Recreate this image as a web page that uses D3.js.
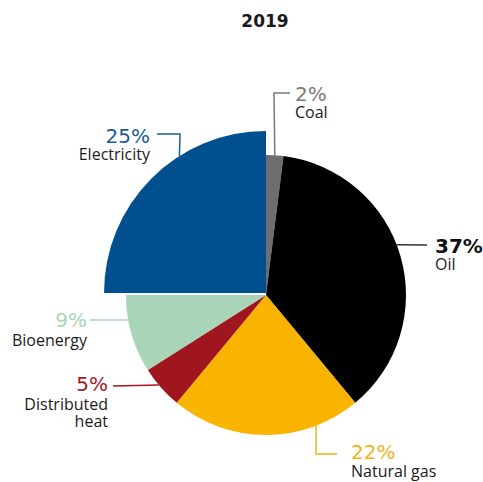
<!DOCTYPE html>
<html>
<head>
<meta charset="utf-8">
<script src="https://cdn.jsdelivr.net/npm/d3@7"></script>
<style>
  body { margin: 0; background: #fff; }
  svg { display: block; }
</style>
</head>
<body>
<div id="chart"></div>
<script>
// data
const title = '2019'
const categories = ['Coal', 'Oil', 'Natural gas', 'Distributed heat', 'Bioenergy', 'Electricity']
const shares = [2, 37, 22, 5, 9, 25]
const colors = ['#6d6e70', '#000000', '#f9b400', '#a0161f', '#a8d5b7', '#00508f']
const pctColors = ['#7a7a7a', '#111111', '#f4b31c', '#a8161f', '#a8d5b7', '#1c5b96']

const width = 483
const height = 482
const cx = 266
const cy = 295
const radius = 140
const bigRadius = 162 // electricity slice sticks out

// label layout: leader angle (deg, clockwise from top), elbow points, text position
const labelLayout = [
  { angle: 3.6, r: radius, pts: [[274, 93], [290, 93]], tx: 295, ty: 101, gap: 17, anchor: 'start', lines: ['Coal'] },
  { angle: 69, r: radius, pts: [[427, 245]], tx: 435, ty: 253, gap: 17, anchor: 'start', lines: ['Oil'], bold: true },
  { angle: 159, r: radius, pts: [[316, 454], [337, 454]], tx: 351, ty: 459, gap: 18, anchor: 'start', lines: ['Natural gas'] },
  { angle: 230, r: radius, pts: [[113, 386]], tx: 108, ty: 391, gap: 19, anchor: 'end', lines: ['Distributed', 'heat'] },
  { angle: 259.7, r: radius, pts: [[90, 320]], tx: 87, ty: 327, gap: 19, anchor: 'end', lines: ['Bioenergy'] },
  { angle: 327.7, r: bigRadius, pts: [[180, 134], [157, 134]], tx: 150, ty: 143, gap: 17, anchor: 'end', lines: ['Electricity'] }
]

const svg = d3.select('#chart')
  .append('svg')
  .attr('width', width)
  .attr('height', height)

svg.append('text')
  .attr('x', 265)
  .attr('y', 27)
  .attr('text-anchor', 'middle')
  .style('font-family', '"DejaVu Sans", sans-serif')
  .style('font-weight', 'bold')
  .style('font-size', '17px')
  .style('fill', '#1a1a1a')
  .text(title)

const pie = d3.pie().sort(null).value((d) => d)
const arcs = pie(shares)

const g = svg.append('g').attr('transform', `translate(${cx},${cy})`)

g.selectAll('path')
  .data(arcs)
  .join('path')
  .attr('d', (d, i) => d3.arc().innerRadius(0).outerRadius(i === 5 ? bigRadius : radius)(d))
  .attr('transform', (d, i) => (i === 5 ? 'translate(0,-2)' : null))
  .attr('fill', (d, i) => colors[i])

// leader lines + labels
labelLayout.forEach((l, i) => {
  const a = (l.angle * Math.PI) / 180
  const off = i === 5 ? -2 : 0
  const start = [cx + Math.sin(a) * l.r, cy - Math.cos(a) * l.r + off]
  const pts = [start].concat(l.pts)
  svg.append('path')
    .attr('d', d3.line()(pts))
    .attr('fill', 'none')
    .attr('stroke', i === 1 ? '#333' : pctColors[i])
    .attr('stroke-width', 1.5)

  svg.append('text')
    .attr('x', l.tx)
    .attr('y', l.ty)
    .attr('text-anchor', l.anchor)
    .style('font-family', '"DejaVu Sans", sans-serif')
    .style('font-size', '20px')
    .style('font-weight', l.bold ? 'bold' : 'normal')
    .style('fill', pctColors[i])
    .text(shares[i] + '%')

  l.lines.forEach((t, j) => {
    svg.append('text')
      .attr('x', l.tx)
      .attr('y', l.ty + l.gap + j * 17)
      .attr('text-anchor', l.anchor)
      .style('font-family', '"Open Sans", sans-serif')
      .style('font-size', '16px')
      .style('fill', '#1a1a1a')
      .text(t)
  })
})
</script>
</body>
</html>
